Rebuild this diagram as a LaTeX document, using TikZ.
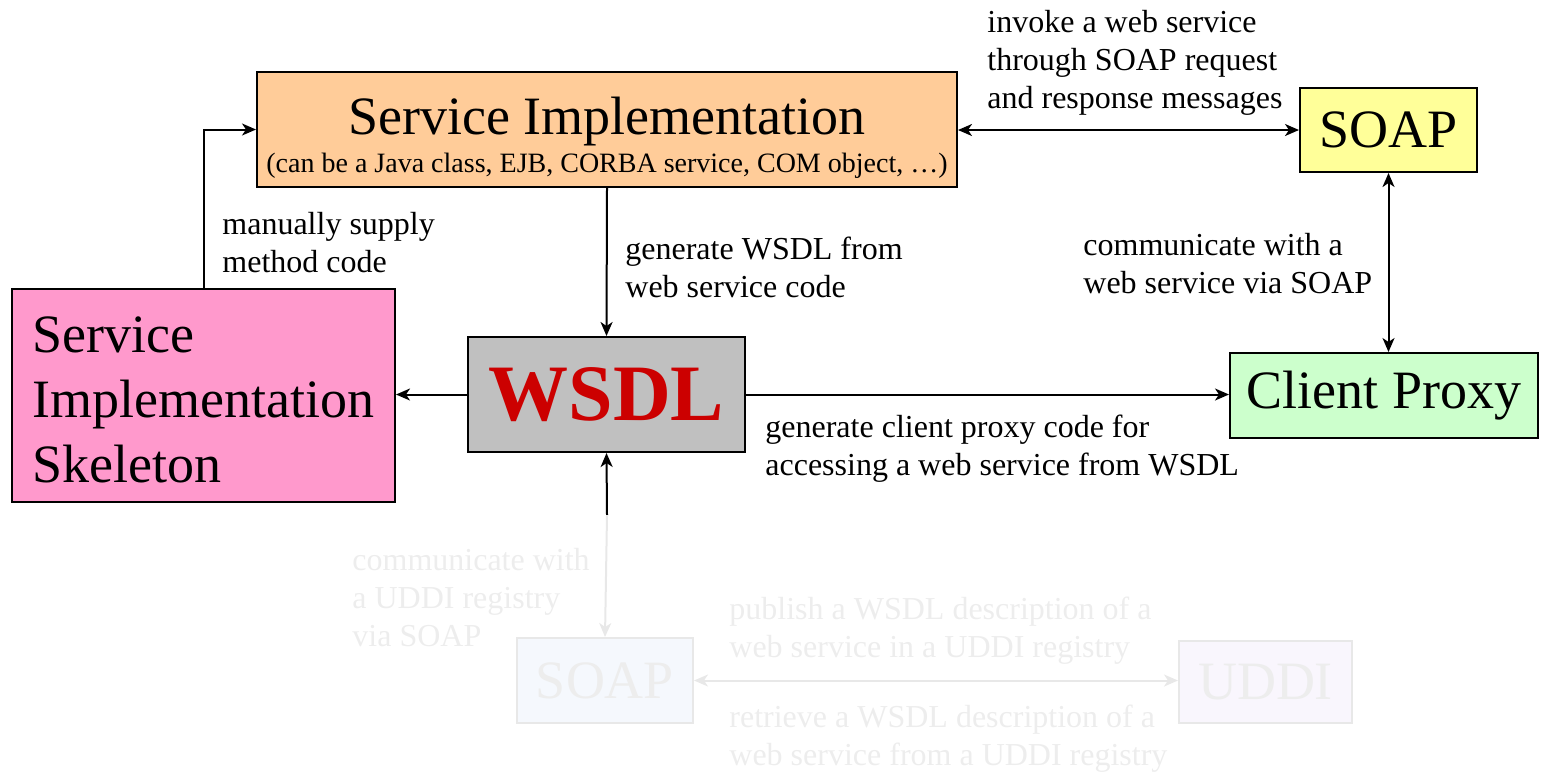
\documentclass[tikz,border=0pt]{standalone}
\usepackage{fontspec}
\setmainfont{Liberation Serif}
\usetikzlibrary{arrows.meta}

\definecolor{implorange}{HTML}{FFCC99}
\definecolor{soapyellow}{HTML}{FFFF99}
\definecolor{skelpink}{HTML}{FF99CC}
\definecolor{wsdlgrey}{HTML}{C0C0C0}
\definecolor{wsdlred}{HTML}{CC0000}
\definecolor{proxygreen}{HTML}{CCFFCC}
\definecolor{fadeline}{HTML}{E8E8E8}
\definecolor{fadetext}{HTML}{EDEDED}
\definecolor{fadeblue}{HTML}{F5F8FD}
\definecolor{fadeviolet}{HTML}{F9F6FD}

\begin{document}
\begin{tikzpicture}[x=0.5pt,y=-0.5pt]
\tikzstyle{box}=[draw, line width=1pt, inner sep=0pt, align=center,
	font=\fontsize{27}{32.5}\selectfont]
\tikzstyle{note}=[anchor=west, align=left, inner sep=0pt,
	font=\fontsize{16}{19}\selectfont]
\tikzstyle{link}=[line width=1pt, -{Stealth[length=7pt,width=6pt,inset=2pt]}]
\tikzstyle{twoway}=[line width=1pt,
	{Stealth[length=7pt,width=6pt,inset=2pt]}-{Stealth[length=7pt,width=6pt,inset=2pt]}]
\tikzstyle{faded}=[draw=fadeline, text=fadetext]
\useasboundingbox (0,0) rectangle (1541,773);

% boxes
\node[box, fill=implorange, minimum width=350pt, minimum height=57.5pt] (impl) at (607,129.5)
	{\rule{0pt}{26.5pt}Service Implementation\\[-13.5pt]
	{\fontsize{14}{17}\selectfont (can be a Java class, EJB, CORBA service, COM object, \dots)}};
\node[box, fill=soapyellow, minimum width=88.5pt, minimum height=42pt] (soap) at (1388.5,130) {SOAP};
\node[box, align=left, fill=skelpink, minimum width=191.5pt, minimum height=106.5pt] (skel) at (203.5,395.5)
	{\rule{0pt}{22pt}Service\\Implementation\\Skeleton};
\node[box, fill=wsdlgrey, text=wsdlred, font=\bfseries\fontsize{40}{48}\selectfont,
	minimum width=138.5pt, minimum height=57.5pt] (wsdl) at (606.5,394.5) {WSDL};
\node[box, fill=proxygreen, minimum width=154pt, minimum height=42.5pt] (proxy) at (1384,395.5) {Client Proxy};
\node[box, faded, fill=fadeblue, minimum width=88pt, minimum height=42.5pt] (usoap) at (605,680.5) {SOAP};
\node[box, faded, fill=fadeviolet, minimum width=86.5pt, minimum height=41pt] (uddi) at (1265.5,682) {UDDI};

% connectors
\draw[link] (impl.south) -- (wsdl.north);
\draw[link] (skel.north) |- (impl.west);
\draw[link] (wsdl.west) -- (wsdl.west -| skel.east);
\draw[link] (wsdl.east) -- (wsdl.east -| proxy.west);
\draw[twoway] (soap.west -| impl.east) -- (soap.west);
\draw[twoway] (soap.south) -- (soap.south |- proxy.north);
\coordinate (split) at (607,515);
\draw[link] (split) -- (wsdl.south);
\draw[link, fadeline] (split) -- (usoap.north);
\draw[twoway, fadeline] (usoap.east) -- (usoap.east -| uddi.west);

% labels
\node[note] (supply) at (222,243) {manually supply\\method code};
\node[note] (genwsdl) at (625,267) {generate WSDL from\\web service code};
\node[note] (invoke) at (987,63) {invoke a web service\\through SOAP request\\and response messages};
\node[note] (viasoap) at (1083,264) {communicate with a\\web service via SOAP};
\node[note] (genproxy) at (765,449) {generate client proxy code for\\accessing a web service from WSDL};
\node[note, text=fadetext] (uddisoap) at (352,598) {communicate with\\a UDDI registry\\via SOAP};
\node[note, text=fadetext] (publish) at (729,631) {publish a WSDL description of a\\web service in a UDDI registry};
\node[note, text=fadetext] (retrieve) at (729,739) {retrieve a WSDL description of a\\web service from a UDDI registry};
\end{tikzpicture}
\end{document}
